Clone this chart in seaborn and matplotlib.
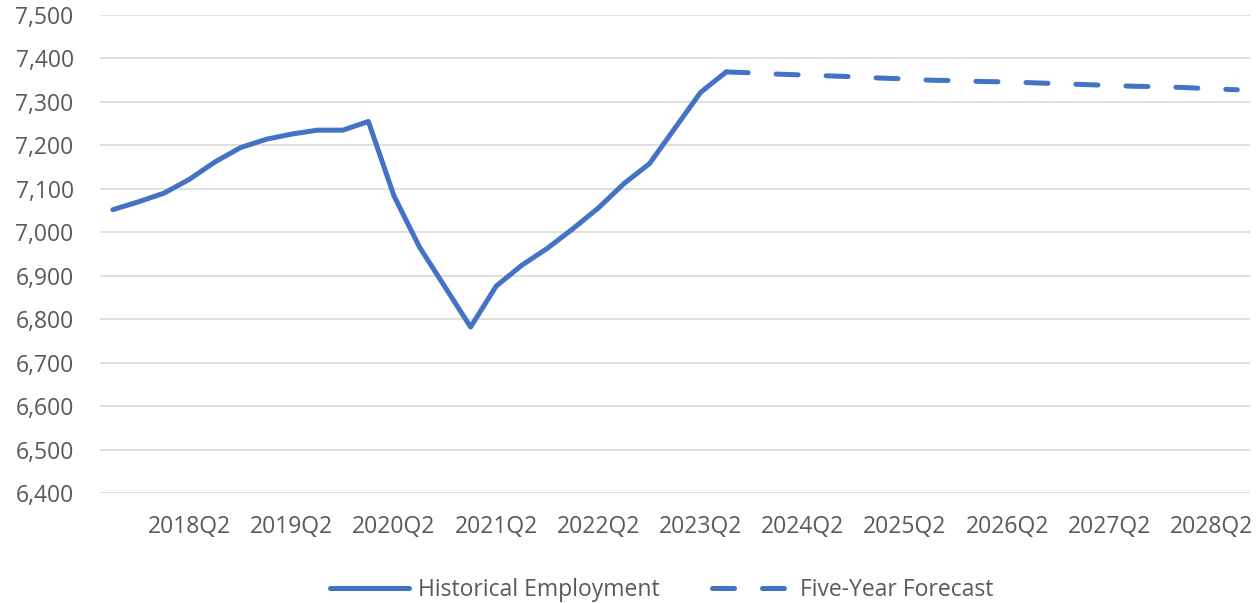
import numpy as np
import pandas as pd
import seaborn as sns
import matplotlib.pyplot as plt
from matplotlib.ticker import FuncFormatter

# quarters 2017Q3 .. 2028Q3
quarters = [f"{y}Q{q}" for y in range(2017, 2029) for q in range(1, 5)][2:47]

hist_values = [7052, 7070, 7090, 7122, 7162, 7195, 7214, 7226, 7235, 7235,
               7255, 7084, 6966, 6874, 6782, 6876, 6924, 6963, 7008, 7056,
               7112, 7158, 7240, 7322, 7369]
fcst_values = [7369, 7367, 7364, 7362, 7360, 7358, 7355, 7353, 7350, 7349,
               7347, 7346, 7344, 7342, 7340, 7338, 7336, 7335, 7333, 7330,
               7328]

hist = pd.DataFrame({'quarter': quarters[:len(hist_values)], 'emp': hist_values})
fcst = pd.DataFrame({'quarter': quarters[len(hist_values) - 1:], 'emp': fcst_values})

blue = '#4472C4'
grey = '#595959'

sns.set_theme(style='white')
plt.rcParams['font.family'] = ['Open Sans', 'DejaVu Sans']

fig = plt.figure(figsize=(12.6, 6.03), dpi=100)
ax = fig.add_axes([0.0794, 0.1824, 0.9127, 0.7927])

sns.lineplot(data=hist, x='quarter', y='emp', ax=ax, color=blue, lw=3.6,
             solid_capstyle='round', sort=False)
sns.lineplot(data=fcst, x='quarter', y='emp', ax=ax, color=blue, lw=3.6,
             linestyle=(0, (4.4, 5.6)), dash_capstyle='round', sort=False)

ax.set_xlim(-0.5, len(quarters) - 0.5)
ax.set_ylim(6400, 7500)
ax.set_yticks(range(6400, 7501, 100))
ax.yaxis.set_major_formatter(FuncFormatter(lambda v, p: f"{int(v):,}"))
ax.set_xticks(range(3, len(quarters), 4))
ax.set_xticklabels([quarters[i] for i in range(3, len(quarters), 4)])
ax.set_xlabel('')
ax.set_ylabel('')
ax.grid(axis='y', color='#D9D9D9', lw=1.2)
ax.set_axisbelow(True)
for s in ax.spines.values():
    s.set_visible(False)
ax.tick_params(axis='both', length=0, labelsize=16.5, labelcolor=grey)
ax.tick_params(axis='y', pad=19)
ax.tick_params(axis='x', pad=16)

lines = ax.get_lines()
fig.legend([lines[0], lines[1]], ['Historical Employment', 'Five-Year Forecast'],
           loc='center', bbox_to_anchor=(0.525, 0.022), ncol=2,
           frameon=False, fontsize=16.5, labelcolor=grey, handlelength=3.45,
           handletextpad=0.39, columnspacing=2.3)

fig.savefig('out.png', dpi=100)
